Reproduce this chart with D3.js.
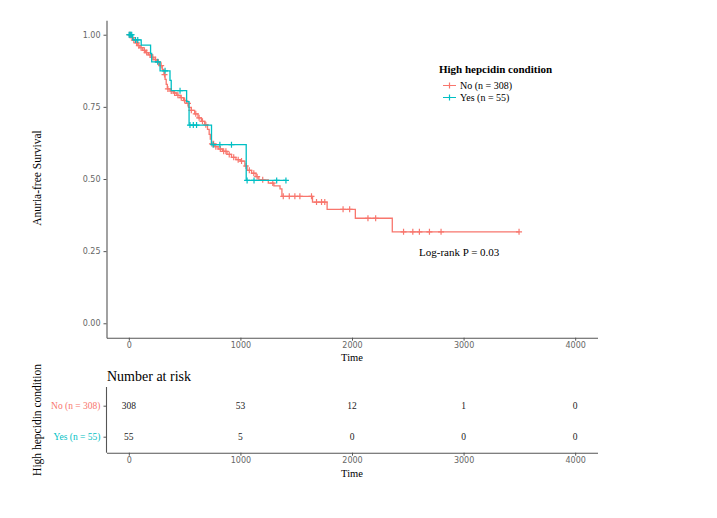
<!DOCTYPE html>
<html><head><meta charset="utf-8">
<script src="https://cdn.jsdelivr.net/npm/d3@7"></script>
<style>body{margin:0;background:#fff}</style>
</head><body>
<svg id="c" width="717" height="518"></svg>
<script>
// ---- data ----
const groups = ["No (n = 308)", "Yes (n = 55)"];
const colors = ["#F8766D", "#00BFC4"];
const xTicks = [0, 1000, 2000, 3000, 4000];
const yTicks = [0, 0.25, 0.5, 0.75, 1];
// step points [time, survival after step]
const stepsNo = [[0,1.000],[20,0.990],[40,0.981],[60,0.972],[80,0.962],[100,0.955],[125,0.946],[150,0.938],[175,0.930],[200,0.922],[225,0.914],[250,0.905],[275,0.893],[300,0.880],[315,0.862],[325,0.845],[335,0.828],[345,0.812],[370,0.805],[400,0.798],[430,0.790],[460,0.782],[490,0.772],[515,0.762],[535,0.748],[560,0.738],[590,0.726],[620,0.712],[650,0.700],[680,0.688],[705,0.672],[720,0.655],[730,0.638],[740,0.622],[770,0.612],[800,0.604],[840,0.596],[880,0.585],[920,0.575],[960,0.567],[1000,0.562],[1040,0.545],[1060,0.530],[1100,0.520],[1140,0.508],[1165,0.497],[1250,0.486],[1300,0.476],[1355,0.466],[1372,0.440],[1646,0.420],[1777,0.395],[2030,0.364],[2361,0.317]];
const endNo = 3497;
const censorNo = [5,15,30,45,70,90,110,140,160,190,215,240,265,290,320,350,380,410,440,470,500,530,560,600,630,660,690,745,760,780,820,850,870,900,940,980,1010,1050,1080,1120,1150,1200,1290,1384,1438,1488,1533,1637,1682,1727,1756,1920,1979,2143,2212,2462,2545,2604,2694,2798,3497];
const stepsYes = [[0,1.000],[35,0.982],[111,0.964],[195,0.935],[205,0.906],[280,0.875],[369,0.842],[380,0.806],[518,0.768],[540,0.687],[741,0.619],[1052,0.495]];
const endYes = 1410;
const censorYes = [3,10,18,26,60,80,259,325,459,548,578,607,756,816,920,1060,1122,1325,1408];
const riskNo = [308, 53, 12, 1, 0];
const riskYes = [55, 5, 0, 0, 0];

const svg = d3.select("#c");
const serif = "'Liberation Serif', 'Times New Roman', serif";
const sans = "'DejaVu Sans', sans-serif";
const axisCol = "#555";

// ---- main plot ----
const x = d3.scaleLinear().domain([-200, 4200]).range([106.5, 597.5]);
const y = d3.scaleLinear().domain([-0.05, 1.05]).range([337.7, 20.3]);

function styleAxis(g){
  g.select(".domain").attr("stroke", axisCol).attr("stroke-width", 1.1);
  g.selectAll(".tick line").attr("stroke", axisCol);
  g.selectAll(".tick text").attr("fill", "#666").style("font-family", sans).style("font-size", "8px");
}
svg.append("g").attr("transform","translate(0,337.7)")
  .call(d3.axisBottom(x).tickValues(xTicks).tickSize(3).tickPadding(1.5).tickSizeOuter(0).tickFormat(d3.format("d")))
  .call(styleAxis);
svg.append("g").attr("transform","translate(106.5,0)")
  .call(d3.axisLeft(y).tickValues(yTicks).tickSize(3).tickSizeOuter(0).tickFormat(d3.format(".2f")))
  .call(styleAxis);

function survAt(steps, t){
  let s = steps[0][1];
  for (const p of steps){ if (p[0] <= t) s = p[1]; }
  return s;
}
function stepPath(steps, end){
  const pts = steps.map(p => [p[0], p[1]]);
  pts.push([end, steps[steps.length-1][1]]);
  return d3.line().x(d=>x(d[0])).y(d=>y(d[1])).curve(d3.curveStepAfter)(pts);
}
const series = [
  {steps: stepsNo, end: endNo, cens: censorNo, col: colors[0]},
  {steps: stepsYes, end: endYes, cens: censorYes, col: colors[1]}
];
series.forEach(s => {
  svg.append("path").attr("d", stepPath(s.steps, s.end))
    .attr("fill","none").attr("stroke", s.col).attr("stroke-width", 1.3);
  const g = svg.append("g");
  s.cens.forEach(t => {
    const cx = x(t), cy = y(survAt(s.steps, t));
    g.append("path").attr("d", `M${cx-3},${cy}H${cx+3}M${cx},${cy-3}V${cy+3}`)
      .attr("stroke", s.col).attr("stroke-width", 1.2);
  });
});

svg.append("text").attr("x", 352).attr("y", 360.5).attr("text-anchor","middle")
  .style("font-family", serif).style("font-size","10.5px").text("Time");
svg.append("text").attr("transform","translate(41,178) rotate(-90)").attr("text-anchor","middle")
  .style("font-family", serif).style("font-size","11.5px").text("Anuria-free Survival");

// legend
svg.append("text").attr("x", 439).attr("y", 73).style("font-family", serif)
  .style("font-size","11px").style("font-weight","bold").text("High hepcidin condition");
groups.forEach((gname, i) => {
  const cy = 85.5 + i*12;
  svg.append("path").attr("d", `M443,${cy}H456M449.5,${cy-3}V${cy+3}`).attr("stroke", colors[i]).attr("stroke-width",1.2);
  svg.append("text").attr("x", 460).attr("y", cy+3.5).style("font-family", serif).style("font-size","10px").text(gname);
});

svg.append("text").attr("x", 419).attr("y", 256).style("font-family", serif).style("font-size","11px").text("Log-rank P = 0.03");

// ---- risk table ----
const yr = d3.scalePoint().domain(groups).range([405.7, 436.7]);
svg.append("text").attr("x", 107).attr("y", 381).style("font-family", serif).style("font-size","14px").text("Number at risk");
svg.append("g").attr("transform","translate(0,452.7)")
  .call(d3.axisBottom(x).tickValues(xTicks).tickSize(3).tickPadding(1.5).tickSizeOuter(0).tickFormat(d3.format("d")))
  .call(styleAxis);
const gy = svg.append("g").attr("transform","translate(106.5,0)")
  .call(d3.axisLeft(yr).tickSize(3).tickSizeOuter(0));
gy.select(".domain").attr("d", "M0,387V452.7").attr("stroke", axisCol).attr("stroke-width",1.1);
gy.selectAll(".tick line").attr("stroke", axisCol);
gy.selectAll(".tick text").style("font-family", serif).style("font-size","9.5px")
  .attr("fill", (d,i) => colors[i]);
[riskNo, riskYes].forEach((vals, i) => {
  vals.forEach((v, j) => {
    svg.append("text").attr("x", x(xTicks[j])).attr("y", yr(groups[i]) + 3.5).attr("text-anchor","middle")
      .style("font-family", serif).style("font-size","9.5px").attr("fill","#222").text(v);
  });
});
svg.append("text").attr("x", 352).attr("y", 477).attr("text-anchor","middle")
  .style("font-family", serif).style("font-size","10.5px").text("Time");
svg.append("text").attr("transform","translate(41,420) rotate(-90)").attr("text-anchor","middle")
  .style("font-family", serif).style("font-size","11.5px").text("High hepcidin condition");
</script>
</body></html>
